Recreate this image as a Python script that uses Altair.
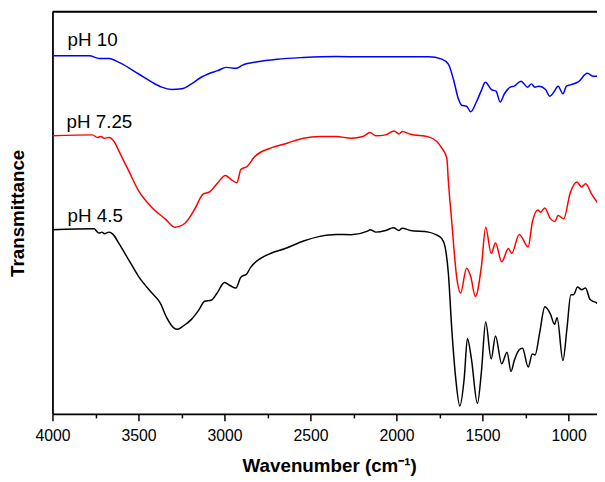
import altair as alt
import pandas as pd

# ---- data (wavenumber in cm-1, transmittance in arbitrary units) ----
blue_wn = [4000, 3786, 3728, 3671, 3613, 3499, 3422, 3365, 3307, 3250, 3192, 3135, 3096, 3039,
           2991, 2934, 2895, 2809, 2694, 2541, 2350, 2196, 1814, 1737, 1699, 1670, 1641, 1622,
           1593, 1569, 1536, 1507, 1484, 1450, 1421, 1398, 1373, 1339, 1316, 1277, 1239, 1216,
           1197, 1172, 1134, 1109, 1086, 1061, 1033, 1013, 990, 942, 891, 856, 827]
blue_t = [362.4, 362.4, 359.7, 359.7, 355.7, 344, 335.7, 330.7, 328.4, 329, 334, 340.7, 344, 347.4,
          350.7, 349.7, 353, 356.4, 359, 360.7, 361.7, 361.4, 361.4, 359, 354, 339, 319, 312.4,
          311.4, 305.7, 315.7, 327.4, 335.7, 328.4, 326.4, 315.7, 324, 330.7, 331.7, 336.7, 330.7, 334,
          330.7, 331.7, 328.4, 321.4, 325.7, 331.7, 324, 331.7, 333, 336.4, 344.7, 341.7, 341.7]

red_wn = [4000, 3767, 3738, 3719, 3700, 3671, 3642, 3613, 3556, 3499, 3422, 3345, 3288, 3230,
          3173, 3125, 3087, 3039, 2995, 2963, 2928, 2905, 2867, 2828, 2733, 2637, 2541, 2446,
          2350, 2264, 2196, 2154, 2120, 2063, 2015, 1986, 1967, 1919, 1814, 1766, 1737, 1708,
          1699, 1679, 1651, 1628, 1593, 1569, 1542, 1507, 1482, 1450, 1425, 1389, 1350, 1331,
          1287, 1235, 1211, 1178, 1163, 1139, 1105, 1080, 1061, 1029, 990, 952, 924, 901, 866, 827]
red_t = [281.4, 282.4, 279.7, 280.7, 279, 279.7, 275.7, 265.7, 245.7, 225.7, 209, 197.4, 189, 193,
         207.4, 222.4, 224.7, 234, 241.4, 237.4, 234, 247.4, 250.7, 259.7, 269, 274, 279, 280.7,
         280.7, 279, 280.7, 284.7, 281.4, 282.4, 286.4, 283.4, 285.7, 283, 280.4, 275.7, 269, 259,
         235.7, 194, 139, 122.4, 147.4, 139, 119, 149, 189, 162.4, 173, 154, 167.4, 162.4,
         181.7, 169, 194, 206.4, 204, 208.4, 197.4, 194.7, 200.7, 197.4, 224, 234.7, 229.7, 233, 222.4, 212.4]

black_wn = [4000, 3757, 3744, 3728, 3713, 3698, 3671, 3648, 3613, 3556, 3499, 3422, 3374, 3336,
            3297, 3273, 3240, 3192, 3154, 3115, 3078, 3043, 3000, 2966, 2934, 2905, 2871, 2848,
            2790, 2733, 2647, 2541, 2446, 2350, 2264, 2168, 2154, 2120, 2063, 2018, 1986, 1967,
            1919, 1814, 1775, 1737, 1718, 1699, 1679, 1656, 1632, 1607, 1588, 1565, 1530, 1507,
            1482, 1450, 1425, 1389, 1358, 1335, 1316, 1287, 1268, 1235, 1211, 1195, 1168, 1138,
            1105, 1082, 1067, 1033, 1010, 987, 971, 948, 924, 902, 875, 833, 827]
black_t = [186.4, 187.4, 185, 183, 184, 182.4, 184, 181.7, 172.4, 155.7, 139, 122.4, 112.4, 97.4,
           87.4, 85.7, 89, 95.7, 104, 114, 115, 122.4, 133, 129.7, 127.4, 138.4, 141.7, 148.4,
           157.4, 162.4, 167.4, 175, 179.7, 181.7, 181.4, 185, 186.4, 184, 185.7, 188.4, 185.7, 188,
           185.7, 184, 181.7, 177.4, 169, 142.4, 85.7, 35.7, 8, 35.7, 76.4, 55.7, 10.7, 42.4,
           93, 55.7, 79, 50.7, 62.4, 43, 54, 65, 66.4, 47.4, 60.7, 59.7, 82.4, 108.4,
           100.7, 90.7, 97.4, 54, 85.7, 120.7, 120.7, 128.4, 125.7, 127.4, 115.7, 111.7, 110]

series_names = ["pH 10", "pH 7.25", "pH 4.5"]
series_colors = ["#0000FF", "#FF0000", "#000000"]
label_wn = [3912, 3918, 3912]
label_t = [372.7, 289, 194]

tick_values = [4000, 3750, 3500, 3250, 3000, 2750, 2500, 2250, 2000, 1750, 1500, 1250, 1000]

# ---- build tables ----
rows = []
for name, wns, ts in zip(series_names, [blue_wn, red_wn, black_wn], [blue_t, red_t, black_t]):
    for w, t in zip(wns, ts):
        rows.append({"wn": w, "t": t, "series": name})
df = pd.DataFrame(rows)
labels_df = pd.DataFrame({"wn": label_wn, "t": label_t, "series": series_names})

W, H = 551, 407
FONT = "Liberation Sans"

xscale = alt.Scale(domain=[835, 4000], reverse=True, nice=False, zero=False)
yscale = alt.Scale(domain=[0, 407], nice=False, zero=False)
cscale = alt.Scale(domain=series_names, range=series_colors)

x_axis = alt.Axis(
    title="Wavenumber (cm⁻¹)",
    values=tick_values,
    format="d",
    labelExpr="datum.value % 500 === 0 ? datum.label : ''",
    labelFlush=False, labelOverlap=False,
    tickSize=alt.ExprRef(expr="datum.value % 500 === 0 ? 7 : 4"),
    tickColor="black", tickWidth=1.5,
    domainColor="black", domainWidth=1.8,
    labelFont=FONT, labelFontSize=16, labelColor="black", labelPadding=7,
    titleFont=FONT, titleFontSize=19, titleFontWeight="bold", titleColor="black",
    titleX=280, titleY=52, titleBaseline="middle", titleAlign="center",
    grid=False,
)
y_axis = alt.Axis(
    title="Transmittance",
    labels=False, ticks=False, grid=False,
    domainColor="black", domainWidth=1.8,
    titleFont=FONT, titleFontSize=19, titleFontWeight="bold", titleColor="black",
    titleAngle=270, titleX=-35, titleY=H / 2, titleBaseline="middle", titleAlign="center",
)

lines = alt.Chart(df).mark_line(strokeWidth=1.5, interpolate="monotone", clip=True).encode(
    x=alt.X("wn:Q", scale=xscale, axis=x_axis),
    y=alt.Y("t:Q", scale=yscale, axis=y_axis),
    color=alt.Color("series:N", scale=cscale, legend=None),
    detail="series:N",
    order=alt.Order("wn:Q", sort="descending"),
)

texts = alt.Chart(labels_df).mark_text(
    align="left", baseline="alphabetic", font=FONT, fontSize=19, color="black"
).encode(
    x=alt.X("wn:Q", scale=xscale),
    y=alt.Y("t:Q", scale=yscale),
    text="series:N",
)

top_frame = alt.Chart(pd.DataFrame({"a": [0]})).mark_rule(color="black", strokeWidth=1.8).encode(
    x=alt.value(0), x2=alt.value(W), y=alt.value(0)
)

chart = alt.layer(lines, texts, top_frame).properties(
    width=W, height=H,
    autosize=alt.AutoSizeParams(type="none"),
    padding={"left": 45, "top": 1, "right": 0, "bottom": 60},
).configure_view(stroke=None).configure(background="white")

chart.save("out.html", embed_options={"renderer": "svg", "actions": False})
